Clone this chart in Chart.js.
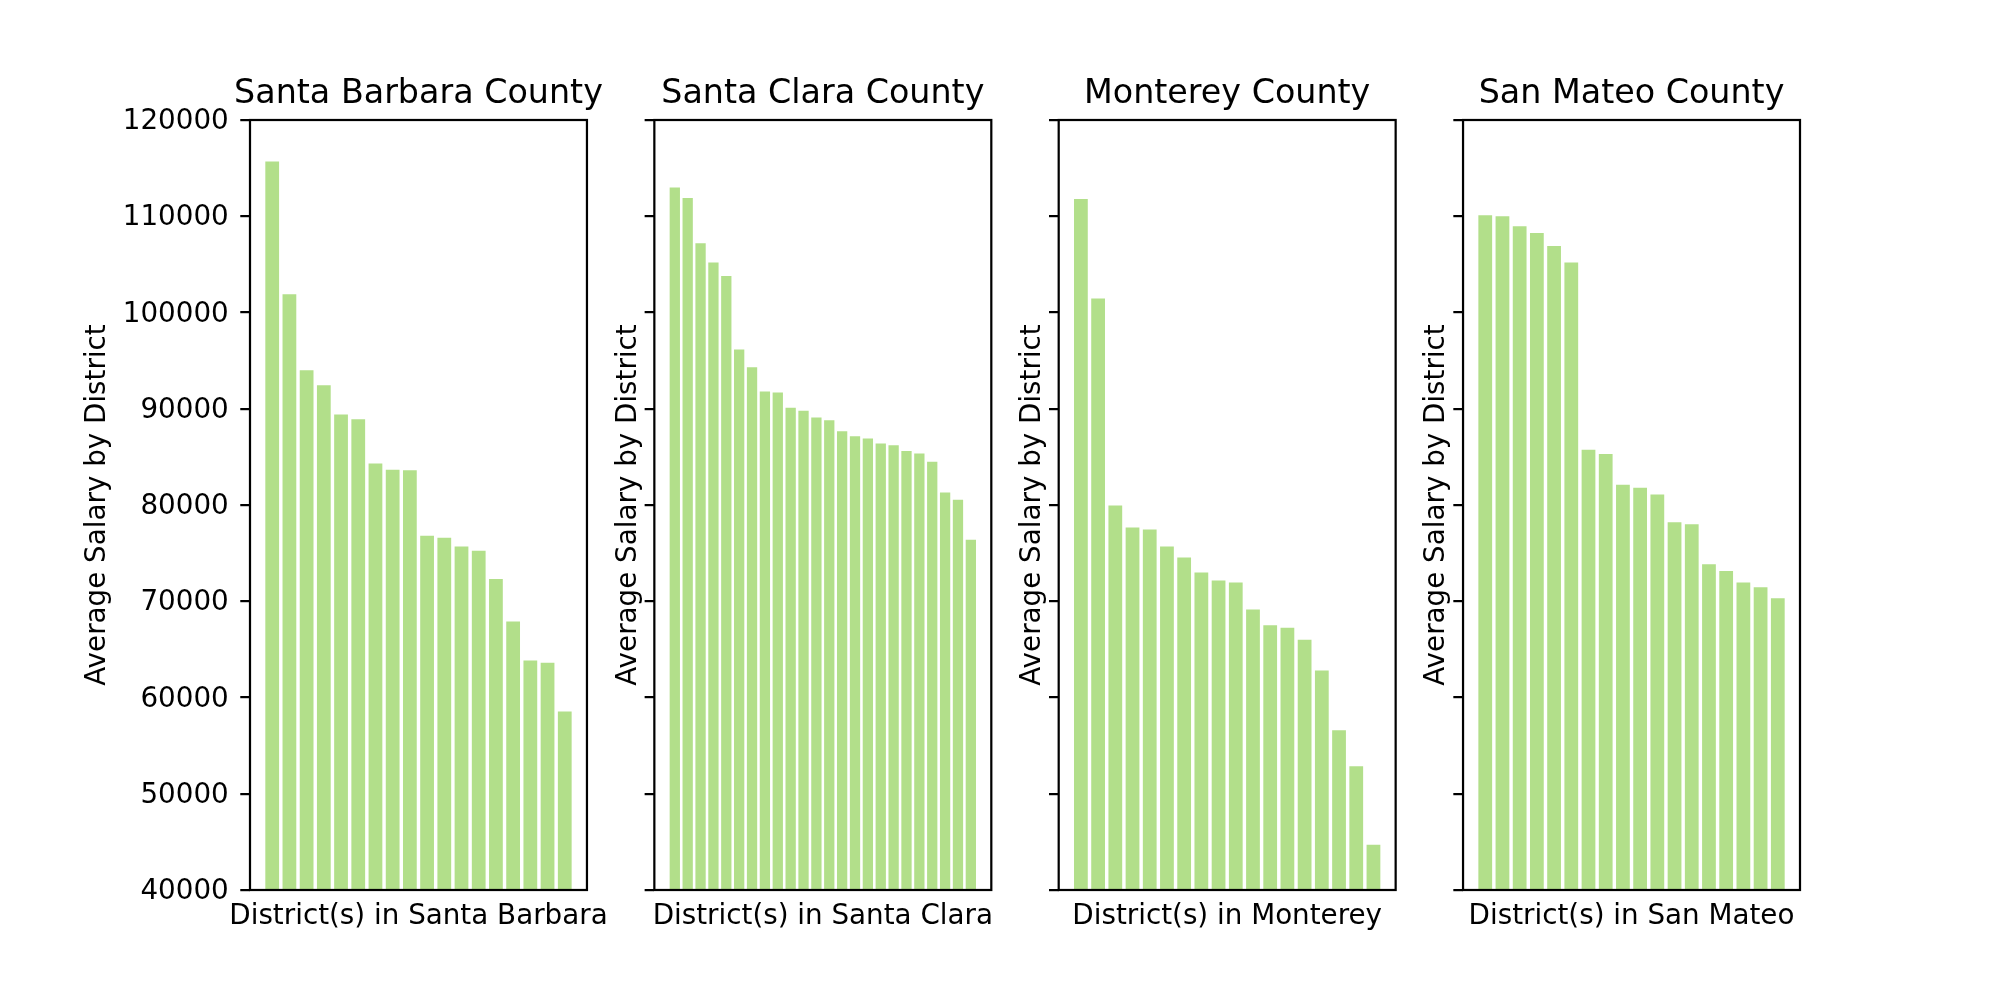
<!DOCTYPE html>
<html>
<head>
<meta charset="utf-8">
<script src="https://cdn.jsdelivr.net/npm/chart.js@4.4.1/dist/chart.umd.min.js"></script>
<style>
  html, body { margin: 0; padding: 0; background: #ffffff; }
  #wrap { position: relative; width: 2000px; height: 1000px; }
  #wrap canvas { position: absolute; left: 0; top: 0; }
</style>
</head>
<body>
<div id="wrap">
  <canvas id="c0" width="2000" height="1000"></canvas>
  <canvas id="c1" width="2000" height="1000"></canvas>
  <canvas id="c2" width="2000" height="1000"></canvas>
  <canvas id="c3" width="2000" height="1000"></canvas>
</div>
<script>
// ---------------- data ----------------
const countyTitles = ["Santa Barbara County", "Santa Clara County", "Monterey County", "San Mateo County"];
const xAxisLabels = ["District(s) in Santa Barbara", "District(s) in Santa Clara", "District(s) in Monterey", "District(s) in San Mateo"];
const yAxisLabel = "Average Salary by District";

const santaBarbara = [115700, 101900, 94000, 92450, 89400, 88900, 84300, 83650, 83600,
                      76800, 76600, 75700, 75250, 72300, 67900, 63850, 63600, 58550];
const santaClara = [113000, 111900, 107200, 105200, 103800, 96150, 94300, 91800, 91700,
                    90100, 89800, 89100, 88800, 87650, 87150, 86900, 86400, 86200,
                    85600, 85350, 84500, 81300, 80550, 76400];
const monterey = [111800, 101450, 79950, 77650, 77450, 75700, 74550, 73000, 72150,
                  71950, 69150, 67500, 67250, 66000, 62800, 56600, 52850, 44700];
const sanMateo = [110100, 110000, 108950, 108250, 106900, 105200, 85750, 85300, 82100,
                  81800, 81100, 78200, 78000, 73850, 73150, 71950, 71450, 70300];

const yTickValues = [40000, 50000, 60000, 70000, 80000, 90000, 100000, 110000, 120000];

const seriesList = [santaBarbara, santaClara, monterey, sanMateo];

// ---------------- layout (matplotlib-like figure) ----------------
const FIG_W = 2000, FIG_H = 1000;
const SP_LEFT = 0.125, SP_RIGHT = 0.9, SP_TOP = 0.88, SP_BOTTOM = 0.11, WSPACE = 0.2;
const NCOLS = 4;
const axW = (FIG_W * (SP_RIGHT - SP_LEFT)) / (NCOLS + (NCOLS - 1) * WSPACE);
const gapW = axW * WSPACE;
const axTop = FIG_H * (1 - SP_TOP);
const axBottom = FIG_H * (1 - SP_BOTTOM);
const Y_SCALE_W = 150;

const PT = 200 / 72;           // pixels per point at 200 dpi
const TICK_FS = 10 * PT;       // 27.78px
const TITLE_FS = 12 * PT;      // 33.33px
const LINE_W = 0.8 * PT;       // 2.22px
const TICK_LEN = 3.5 * PT;     // 9.72px
const BAR_COLOR = '#b2df8a';
const FONT = "'DejaVu Sans', 'Liberation Sans', sans-serif";

Chart.defaults.font.family = FONT;
Chart.defaults.color = '#000000';

const mplDecor = {
  id: 'mplDecor',
  afterDatasetsDraw(chart, args, opts) {
    const a = chart.chartArea;
    const ctx = chart.ctx;
    ctx.save();
    ctx.strokeStyle = '#000000';
    ctx.lineWidth = LINE_W;
    ctx.lineJoin = 'miter';
    ctx.strokeRect(a.left, a.top, a.right - a.left, a.bottom - a.top);
    ctx.restore();
  },
  afterDraw(chart, args, opts) {
    const a = chart.chartArea;
    const ctx = chart.ctx;
    const cx = (a.left + a.right) / 2;
    const cy = (a.top + a.bottom) / 2;
    ctx.save();
    ctx.fillStyle = '#000000';
    ctx.textBaseline = 'alphabetic';
    ctx.textAlign = 'center';
    ctx.font = TITLE_FS + 'px ' + FONT;
    ctx.fillText(opts.title, cx, a.top - 6 * PT);
    ctx.font = TICK_FS + 'px ' + FONT;
    ctx.fillText(opts.xlabel, cx, a.bottom + 33.5);
    ctx.save();
    ctx.translate(a.left - opts.ylabelOffset, cy);
    ctx.rotate(-Math.PI / 2);
    ctx.fillText(opts.ylabel, 0, 0);
    ctx.restore();
    ctx.restore();
  }
};

seriesList.forEach((values, i) => {
  const L = FIG_W * SP_LEFT + i * (axW + gapW);
  const R = L + axW;
  const n = values.length;
  const span = (n - 1 + 0.4) - (-0.4);
  const margin = 0.05 * span;
  const xMin = -0.4 - margin;
  const xMax = n - 1 + 0.4 + margin;
  const showLabels = (i === 0);

  new Chart(document.getElementById('c' + i), {
    type: 'bar',
    data: {
      datasets: [{
        data: values.map((v, k) => ({ x: k, y: v })),
        backgroundColor: BAR_COLOR,
        borderWidth: 0,
        barPercentage: 0.8,
        categoryPercentage: 1.0,
        base: yTickValues[0],
        clip: 0
      }]
    },
    options: {
      responsive: false,
      devicePixelRatio: 1,
      animation: false,
      events: [],
      layout: {
        padding: { left: L - Y_SCALE_W, right: FIG_W - R, top: axTop, bottom: FIG_H - axBottom }
      },
      plugins: {
        legend: { display: false },
        tooltip: { enabled: false },
        title: { display: false },
        mplDecor: {
          title: countyTitles[i],
          xlabel: xAxisLabels[i],
          ylabel: yAxisLabel,
          ylabelOffset: showLabels ? 144.7 : 18.7
        }
      },
      scales: {
        x: {
          type: 'linear',
          display: false,
          offset: false,
          min: xMin,
          max: xMax,
          ticks: { includeBounds: false, stepSize: 1 },
          grid: { display: false, offset: false }
        },
        y: {
          type: 'linear',
          position: 'left',
          min: yTickValues[0],
          max: yTickValues[yTickValues.length - 1],
          afterFit: (scale) => { scale.width = Y_SCALE_W; },
          afterBuildTicks: (scale) => { scale.ticks = yTickValues.map(v => ({ value: v })); },
          border: { display: false },
          grid: {
            display: true,
            drawOnChartArea: false,
            drawTicks: true,
            tickLength: TICK_LEN,
            tickWidth: LINE_W,
            tickColor: '#000000',
            lineWidth: LINE_W,
            color: '#000000'
          },
          ticks: {
            padding: 11.5,
            labelOffset: 2,
            color: '#000000',
            font: { size: TICK_FS, family: FONT },
            autoSkip: false,
            callback: (v) => showLabels ? String(v) : ''
          }
        }
      }
    },
    plugins: [mplDecor]
  });
});
</script>
</body>
</html>
